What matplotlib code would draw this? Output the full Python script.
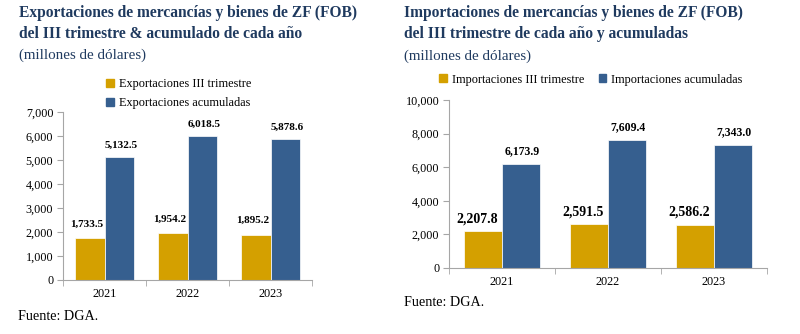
import matplotlib.pyplot as plt
from matplotlib.patches import Patch

plt.rcParams['font.family'] = ['Liberation Serif', 'DejaVu Serif']

years = ['2021', '2022', '2023']
exp_trim = [1733.5, 1954.2, 1895.2]
exp_acum = [5132.5, 6018.5, 5878.6]
imp_trim = [2207.8, 2591.5, 2586.2]
imp_acum = [6173.9, 7609.4, 7343.0]

gold = '#D4A000'
blue = '#365F8F'
navy = '#1F3A5F'
gris = '#A6A6A6'

fig = plt.figure(figsize=(8, 3.34), dpi=100)

def style_axis(ax, ymax, step):
    ax.set_ylim(0, ymax)
    ax.set_xlim(-0.5, 2.5)
    ax.set_yticks(range(0, ymax + 1, step))
    ax.set_yticklabels([f'{v:,}' for v in range(0, ymax + 1, step)], fontsize=8.7)
    ax.set_xticks([0, 1, 2])
    ax.set_xticklabels(years, fontsize=8.8)
    ax.set_xticks([-0.5, 0.5, 1.5, 2.5], minor=True)
    ax.tick_params(axis='x', which='major', length=0, pad=6)
    ax.tick_params(axis='x', which='minor', length=4, color=gris)
    ax.tick_params(axis='y', length=4, color=gris, pad=3)
    ax.spines['top'].set_visible(False)
    ax.spines['right'].set_visible(False)
    ax.spines['left'].set_color(gris)
    ax.spines['bottom'].set_color(gris)

w = 0.36
x = [0, 1, 2]

#----EXPORTACIONES----
ax1 = fig.add_axes([63/800, 54/334, 249/800, 168/334])
ax1.bar([i - w/2 for i in x], exp_trim, w, color=gold, edgecolor='white', linewidth=0.5)
ax1.bar([i + w/2 for i in x], exp_acum, w, color=blue, edgecolor='white', linewidth=0.5)
style_axis(ax1, 7000, 1000)
for i in x:
    ax1.annotate(f'{exp_trim[i]:,.1f}', (i - w/2, exp_trim[i]), xytext=(-2, 7), textcoords='offset points',
                 ha='center', va='bottom', fontsize=8, fontweight='bold')
    ax1.annotate(f'{exp_acum[i]:,.1f}', (i + w/2, exp_acum[i]), xytext=(1, 5), textcoords='offset points',
                 ha='center', va='bottom', fontsize=8, fontweight='bold')
ax1.legend(handles=[Patch(color=gold, label='Exportaciones III trimestre'),
                    Patch(color=blue, label='Exportaciones acumuladas')],
           loc='lower left', bbox_to_anchor=(0.13, 0.95), frameon=False, fontsize=8.8,
           handlelength=0.6, handleheight=0.6, handletextpad=0.4, labelspacing=0.6)

fig.text(19/800, 1 - 13/334, 'Exportaciones de mercancías y bienes de ZF (FOB)', fontsize=11.2,
         fontweight='bold', color=navy, va='center')
fig.text(19/800, 1 - 34/334, 'del III trimestre & acumulado de cada año', fontsize=11.2,
         fontweight='bold', color=navy, va='center')
fig.text(19/800, 1 - 55/334, '(millones de dólares)', fontsize=10.8, color=navy, va='center')
fig.text(18/800, 1 - 316/334, 'Fuente: DGA.', fontsize=10.2, va='center')

#----IMPORTACIONES----
ax2 = fig.add_axes([449/800, 66/334, 318/800, 168/334])
ax2.bar([i - w/2 for i in x], imp_trim, w, color=gold, edgecolor='white', linewidth=0.5)
ax2.bar([i + w/2 for i in x], imp_acum, w, color=blue, edgecolor='white', linewidth=0.5)
style_axis(ax2, 10000, 2000)
for i in x:
    ax2.annotate(f'{imp_trim[i]:,.1f}', (i - w/2, imp_trim[i]), xytext=(-4, 4), textcoords='offset points',
                 ha='center', va='bottom', fontsize=10, fontweight='bold')
    ax2.annotate(f'{imp_acum[i]:,.1f}', (i + w/2, imp_acum[i]), xytext=(1, 5), textcoords='offset points',
                 ha='center', va='bottom', fontsize=8.5, fontweight='bold')
ax2.legend(handles=[Patch(color=gold, label='Importaciones III trimestre'),
                    Patch(color=blue, label='Importaciones acumuladas')],
           loc='lower left', bbox_to_anchor=(-0.065, 1.02), frameon=False, fontsize=8.8, ncol=2,
           handlelength=0.6, handleheight=0.6, handletextpad=0.4, columnspacing=1.2)

fig.text(404/800, 1 - 13/334, 'Importaciones de mercancías y bienes de ZF (FOB)', fontsize=11.2,
         fontweight='bold', color=navy, va='center')
fig.text(404/800, 1 - 34/334, 'del III trimestre de cada año y acumuladas', fontsize=11.2,
         fontweight='bold', color=navy, va='center')
fig.text(404/800, 1 - 56/334, '(millones de dólares)', fontsize=10.8, color=navy, va='center')
fig.text(404/800, 1 - 303/334, 'Fuente: DGA.', fontsize=10.2, va='center')

plt.savefig('out.png', dpi=100)
